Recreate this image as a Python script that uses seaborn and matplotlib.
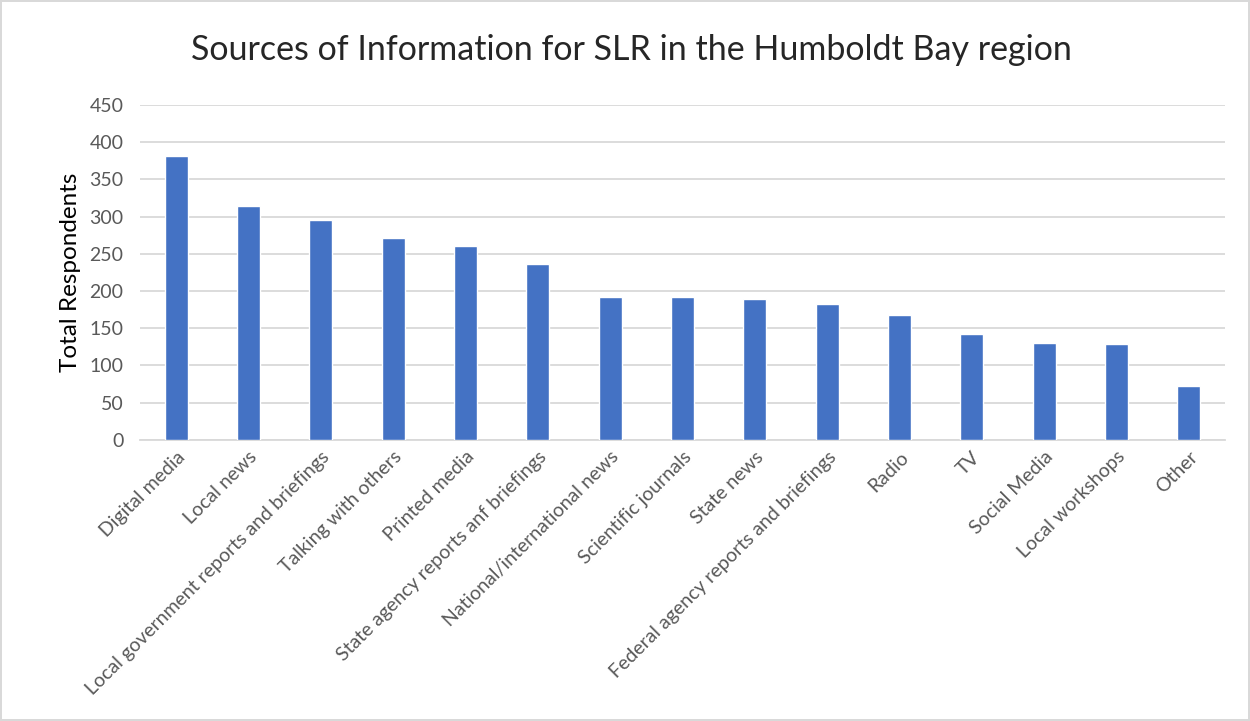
import matplotlib
matplotlib.use("Agg")
import matplotlib.pyplot as plt
import seaborn as sns
import pandas as pd

# Survey counts
sources = [
    "Digital media", "Local news", "Local government reports and briefings",
    "Talking with others", "Printed media", "State agency reports anf briefings",
    "National/international news", "Scientific journals", "State news",
    "Federal agency reports and briefings", "Radio", "TV", "Social Media",
    "Local workshops", "Other",
]
respondents = [381, 314, 296, 271, 260, 236, 192, 192, 189, 182, 168, 142, 130, 129, 72]
y_ticks = [0, 50, 100, 150, 200, 250, 300, 350, 400, 450]

df = pd.DataFrame({"source": sources, "total": respondents})

sns.set_style("white")
plt.rcParams["font.family"] = ["Lato", "DejaVu Sans"]

fig = plt.figure(figsize=(12.5, 7.21), dpi=100)
fig.patch.set_edgecolor("#d9d9d9")
fig.patch.set_linewidth(1.5)
ax = fig.add_axes([0.112, 0.39, 0.868, 0.4645])

sns.barplot(data=df, x="source", y="total", color="#4472C4", width=0.32,
            saturation=1, ax=ax, zorder=3)

ax.set_ylim(0, 450)
ax.set_yticks(y_ticks)
ax.yaxis.grid(True, color="#d9d9d9", linewidth=1.3, zorder=0)
for s in ["top", "right", "left"]:
    ax.spines[s].set_visible(False)
ax.spines["bottom"].set_color("#d9d9d9")
ax.spines["bottom"].set_linewidth(1.3)
ax.tick_params(axis="both", length=0, labelsize=14, labelcolor="#595959")
ax.tick_params(axis="y", pad=12)
ax.tick_params(axis="x", pad=6)
plt.setp(ax.get_xticklabels(), rotation=45, ha="right", rotation_mode="anchor")
ax.set_xlabel("")
ax.set_ylabel("Total Respondents", fontsize=17.5, color="black", labelpad=6)

fig.suptitle("Sources of Information for SLR in the Humboldt Bay region",
             fontsize=24.5, y=0.953, x=0.505)

fig.savefig("out.png", dpi=100)
